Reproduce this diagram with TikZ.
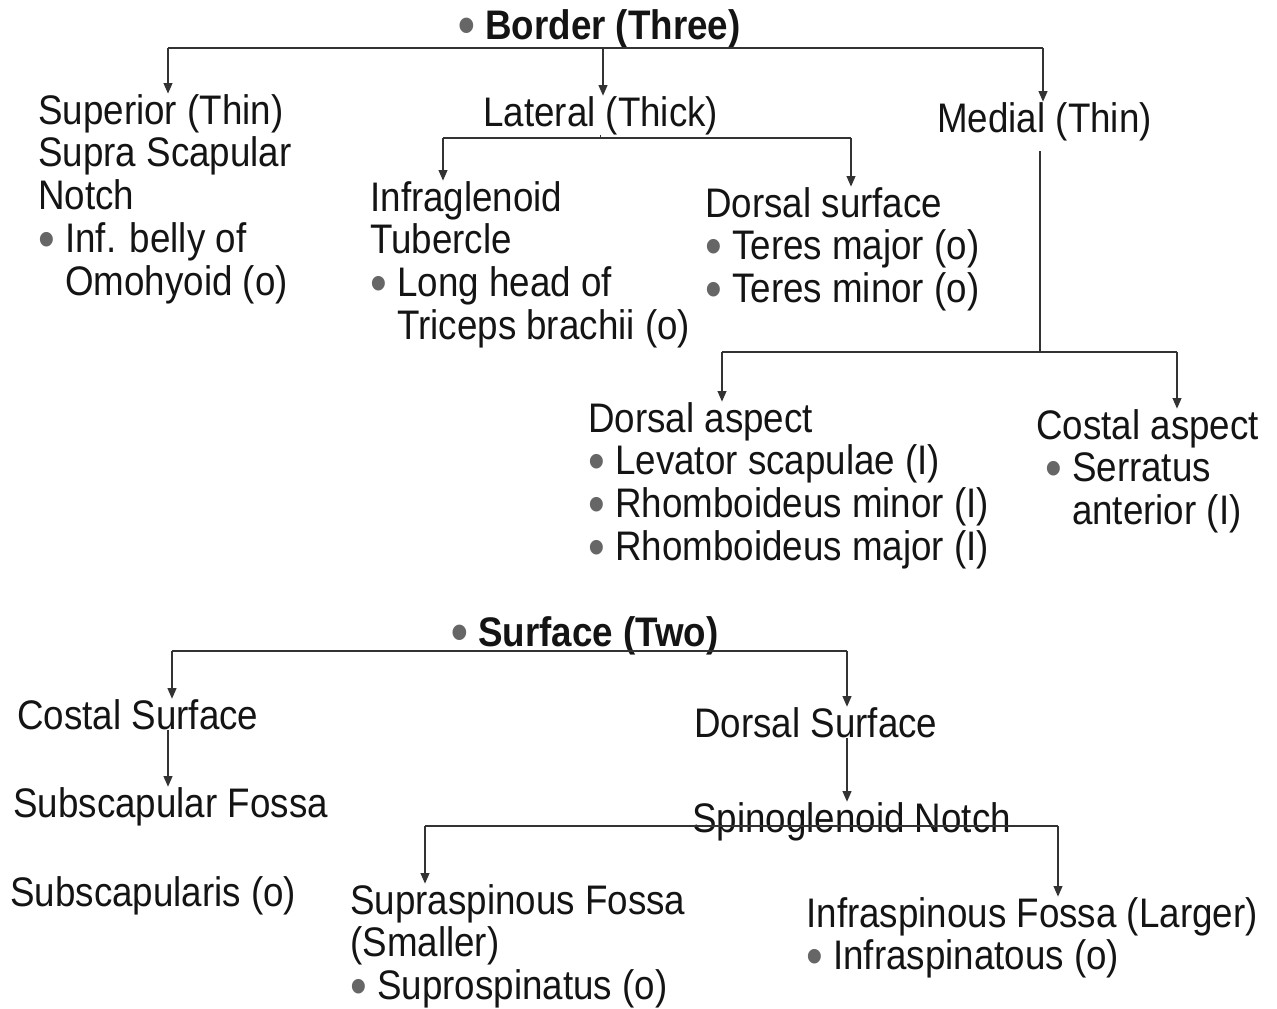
\documentclass[tikz,border=0pt]{standalone}
\usepackage{fontspec}
\setmainfont{Liberation Sans}[FakeStretch=0.89]
\usetikzlibrary{arrows.meta}
\newcommand{\blt}{\textcolor{black!60}{\raisebox{-0.11em}{\scalebox{1.3}{\textbullet}}}\ }
\newcommand{\ind}{\phantom{\scalebox{1.3}{\textbullet}\ }}
\newcommand{\lines}[1]{\begin{tabular}[t]{@{}l@{}}#1\end{tabular}}
\tikzset{
  txt/.style={anchor=base west, inner sep=0pt, text=black!92,
    font=\fontsize{23.5}{24.4}\selectfont},
  ttl/.style={txt, font=\fontsize{23.5}{24.4}\selectfont\bfseries},
  link/.style={draw=black!80, line width=0.8pt},
  arr/.style={link, -{Triangle[length=6pt,width=5pt]}}
}
\begin{document}
\begin{tikzpicture}[x=0.02cm, y=-0.02cm]
\useasboundingbox[fill=white] (0,0) rectangle (1277,1008);
%borders
\node[ttl] (border) at (458,39) {\blt Border (Three)};
\node[txt] (sup) at (38,124) {\lines{Superior (Thin)\\Supra Scapular\\Notch\\\blt Inf. belly of\\\ind Omohyoid (o)}};
\node[txt] (lat) at (483,126) {Lateral (Thick)};
\node[txt] (med) at (937,132) {Medial (Thin)};
\node[txt] (infra) at (370,211) {\lines{Infraglenoid\\Tubercle\\\blt Long head of\\\ind Triceps brachii (o)}};
\node[txt] (dsurf) at (705,217) {\lines{Dorsal surface\\\blt Teres major (o)\\\blt Teres minor (o)}};
\node[txt] (daspect) at (588,432) {\lines{Dorsal aspect\\\blt Levator scapulae (I)\\\blt Rhomboideus minor (I)\\\blt Rhomboideus major (I)}};
\node[txt] (caspect) at (1036,439) {\lines{Costal aspect\\\hspace*{5pt}\blt Serratus\\\hspace*{5pt}\ind anterior (I)}};

\coordinate (b1) at (168,48);
\coordinate (b2) at (603,48);
\coordinate (b3) at (1043,48);
\draw[link] (b1) -- (b3);
\foreach \c/\n in {b1/sup, b2/lat, b3/med}
  \draw[arr] (\c) -- (\c |- \n.north);

\coordinate (l1) at (443,138);
\coordinate (l2) at (851,138);
\draw[link] (lat.south) -- (lat.south |- l1);
\draw[link] (l1) -- (l2);
\foreach \c/\n in {l1/infra, l2/dsurf}
  \draw[arr] (\c) -- (\c |- \n.north);

\coordinate (m0) at (1040,352);
\coordinate (m1) at (722,352);
\coordinate (m2) at (1177,352);
\draw[link, shorten <=6pt] (med.south -| m0) -- (m0);
\draw[link] (m1) -- (m2);
\foreach \c/\n in {m1/daspect, m2/caspect}
  \draw[arr] (\c) -- (\c |- \n.north);

%surfaces
\node[ttl] (surface) at (451,646) {\blt Surface (Two)};
\node[txt] (costal) at (17,729) {Costal Surface};
\node[txt] (dorsal) at (694,737) {Dorsal Surface};
\node[txt] (subfossa) at (13,817) {Subscapular Fossa};
\node[txt] (spino) at (692,832) {Spinoglenoid Notch};
\node[txt] (subsc) at (10,906) {Subscapularis (o)};
\node[txt] (supra) at (350,914) {\lines{Supraspinous Fossa\\(Smaller)\\\blt Suprospinatus (o)}};
\node[txt] (infrasp) at (806,927) {\lines{Infraspinous Fossa (Larger)\\\blt Infraspinatous (o)}};

\coordinate (s1) at (172,651);
\coordinate (s2) at (847,651);
\draw[link] (s1) -- (s2);
\foreach \c/\n in {s1/costal, s2/dorsal}
  \draw[arr] (\c) -- (\c |- \n.north);
\coordinate (c1) at (168,651);
\draw[arr] (costal.south -| c1) -- (subfossa.north -| c1);
\draw[arr] (dorsal.south -| s2) -- (spino.north -| s2);

\coordinate (p1) at (425,826);
\coordinate (p2) at (1058,826);
\draw[link] (p1) -- (p2);
\foreach \c/\n in {p1/supra, p2/infrasp}
  \draw[arr] (\c) -- (\c |- \n.north);
\end{tikzpicture}
\end{document}
